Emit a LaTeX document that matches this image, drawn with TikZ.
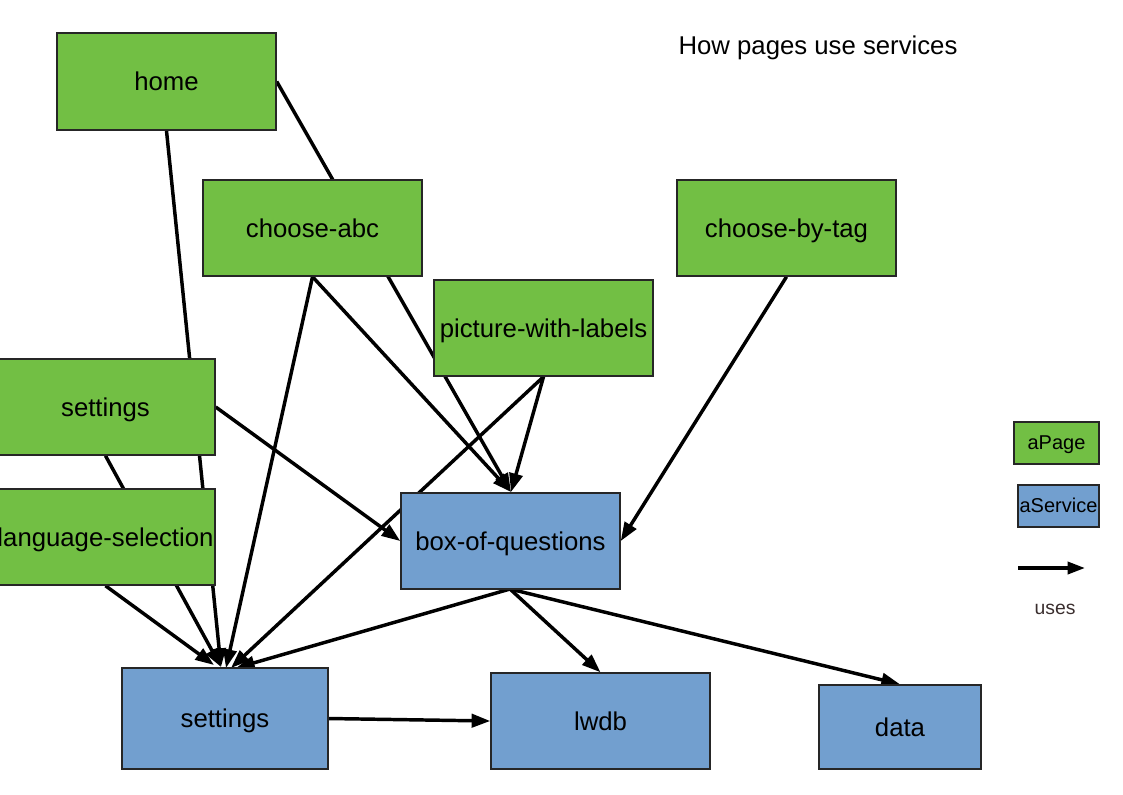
\documentclass[tikz,border=0pt]{standalone}
\usepackage{fontspec}
\setmainfont{Liberation Sans}
\usetikzlibrary{arrows.meta,backgrounds}
\definecolor{pagegreen}{HTML}{72BF44}
\definecolor{serviceblue}{HTML}{729FCF}
\definecolor{usesgrey}{HTML}{3A2E2E}
\tikzset{
  bigtext/.style={font=\fontsize{19.3pt}{22pt}\selectfont, text height=14.2pt, text depth=0pt},
  box/.style={draw=black!85, line width=1.1pt, inner sep=0pt, bigtext},
  pagebox/.style={box, fill=pagegreen},
  servicebox/.style={box, fill=serviceblue},
  legbox/.style={draw=black!85, line width=1.1pt, inner sep=0pt, font=\fontsize{15pt}{17pt}\selectfont, text height=9pt, text depth=0pt},
  uses/.style={line width=2.6pt, -{Triangle[length=14pt,width=10pt]}},
}
\begin{document}
\begin{tikzpicture}[x=0.75pt,y=-0.75pt]
\useasboundingbox (0,0) rectangle (1123,794);
% pages
\node[pagebox, minimum width=219*0.75pt, minimum height=97*0.75pt] (home) at (166.5,81.5) {home};
\node[pagebox, minimum width=219*0.75pt, minimum height=96*0.75pt] (chabc) at (312.5,228) {choose-abc};
\node[pagebox, minimum width=219*0.75pt, minimum height=96*0.75pt] (chtag) at (786.5,228) {choose-by-tag};
\node[pagebox, minimum width=219*0.75pt, minimum height=96*0.75pt] (pwl) at (543.5,328) {picture-with-labels};
\node[pagebox, minimum width=219*0.75pt, minimum height=96*0.75pt] (setp) at (105.5,407) {settings};
\node[pagebox, minimum width=219*0.75pt, minimum height=96*0.75pt] (lang) at (105.5,537) {language-selection};
% services
\node[servicebox, minimum width=219*0.75pt, minimum height=96*0.75pt] (boxq) at (510.5,541) {box-of-questions};
\node[servicebox, minimum width=206*0.75pt, minimum height=101*0.75pt] (sset) at (225,718.5) {settings};
\node[servicebox, minimum width=219*0.75pt, minimum height=96*0.75pt] (lwdb) at (600.5,721) {lwdb};
\node[servicebox, minimum width=162*0.75pt, minimum height=84*0.75pt] (data) at (900,727) {data};
% title
\node[bigtext, inner sep=0pt] (title) at (818,45) {How pages use services};
% legend
\node[legbox, fill=pagegreen, minimum width=85*0.75pt, minimum height=42*0.75pt] (legpage) at (1056.5,443) {aPage};
\node[legbox, fill=serviceblue, minimum width=81*0.75pt, minimum height=42*0.75pt] (legserv) at (1058.5,506) {aService};
\coordinate (legA) at (1018,568);
\coordinate (legB) at (1085,568);
\draw[line width=2.6pt, -{Triangle[length=13pt,width=9pt]}] (legA) -- (legB);
\node[text=usesgrey, font=\fontsize{14.5pt}{17pt}\selectfont, text height=9pt, text depth=0pt, inner sep=0pt] (usestext) at (1055,608) {uses};
% connectors
\coordinate (ssetT1) at (214,665);
\coordinate (ssetT2) at (221,667);
\coordinate (ssetT3) at (226,668);
\coordinate (ssetT4) at (231,668);
\coordinate (ssetT5) at (236,668);
\coordinate (boxqS) at (510,589);
\coordinate (boxqN) at (511,492);
\begin{pgfonlayer}{background}
\draw[uses] (home.south) -- (ssetT2);
\draw[uses] (home.east) -- (boxqN);
\draw[uses] (chabc.south) -- (ssetT3);
\draw[uses] (chabc.south) -- (boxqN);
\draw[uses] (pwl.south) -- (boxqN);
\draw[uses] (pwl.south) -- (ssetT4);
\draw[uses] (chtag.south) -- (boxq.east);
\draw[uses] (setp.east) -- (boxq.west);
\draw[uses] (setp.south) -- (ssetT2);
\draw[uses] (lang.south) -- (ssetT1);
\draw[uses] (boxqS) -- (ssetT5);
\draw[uses] (boxqS) -- (lwdb.north);
\draw[uses] (boxqS) -- (data.north);
\draw[uses] (sset.east) -- (lwdb.west);
\end{pgfonlayer}
\end{tikzpicture}
\end{document}
